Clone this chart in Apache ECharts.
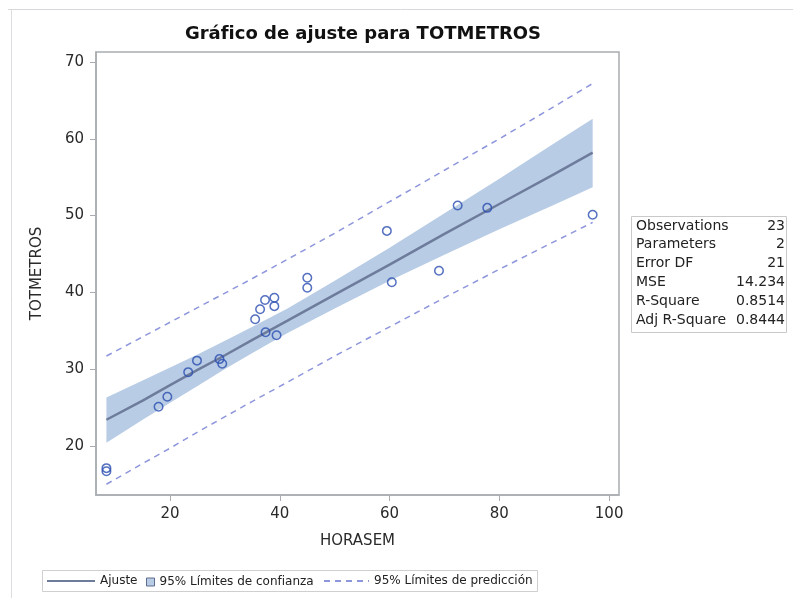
<!DOCTYPE html>
<html lang="es">
<head>
<meta charset="UTF-8">
<title>Gráfico de ajuste para TOTMETROS</title>
<script src="https://cdn.jsdelivr.net/npm/echarts@6/dist/echarts.min.js"></script>
<style>
  html, body { margin: 0; padding: 0; background: #fff; }
  #main { width: 793px; height: 598px; }
</style>
</head>
<body>
<div id="main"></div>
<script>
// observaciones (HORASEM, TOTMETROS)
var horasem = [8.4, 8.4, 17.9, 19.5, 23.3, 24.9, 29.0, 29.5, 35.5, 36.4, 37.3, 37.4,
               39.0, 39.0, 39.4, 45.0, 45.0, 59.5, 60.4, 69.0, 72.4, 77.8, 97.0];
var totmetros = [17.1, 16.7, 25.1, 26.4, 29.6, 31.1, 31.3, 30.7, 36.5, 37.8, 39.0, 34.8,
                 39.3, 38.2, 34.4, 41.9, 40.6, 48.0, 41.3, 42.8, 51.3, 51.0, 50.1];

var gridX   = [8.4, 15, 20, 25, 30, 35, 41.4, 50, 60, 70, 80, 90, 97];
var ajuste  = [23.4, 25.9, 27.9, 29.9, 31.8, 33.8, 36.3, 39.7, 43.6, 47.6, 51.5, 55.4, 58.2];
var clInf   = [20.4, 23.4, 25.6, 27.8, 30.0, 32.1, 34.7, 37.9, 41.5, 44.9, 48.2, 51.4, 53.7];
var clSup   = [26.3, 28.5, 30.2, 31.9, 33.7, 35.5, 37.9, 41.5, 45.8, 50.3, 54.8, 59.4, 62.6];
var plInf   = [15.0, 17.7, 19.7, 21.8, 23.8, 25.8, 28.3, 31.7, 35.5, 39.3, 43.0, 46.6, 49.1];
var plSup   = [31.7, 34.2, 36.1, 38.0, 39.9, 41.8, 44.3, 47.7, 51.8, 55.9, 60.0, 64.2, 67.2];

var xTicks = [20, 40, 60, 80, 100];
var yTicks = [20, 30, 40, 50, 60, 70];

var statNames  = ['Observations', 'Parameters', 'Error DF', 'MSE', 'R-Square', 'Adj R-Square'];
var statValues = ['23', '2', '21', '14.234', '0.8514', '0.8444'];

var FONT = 'DejaVu Sans';
var bandColor = '#B8CCE5';
var fitColor = '#6E7C9C';
var predColor = '#8E96DC';
var markColor = '#2B4DB0';

function pairs(xs, ys) {
  return xs.map(function (x, i) { return [x, ys[i]]; });
}

var puntos = pairs(horasem, totmetros);
var bandData = gridX.map(function (x, i) { return [x, clInf[i], clSup[i]]; });

// banda de confianza: un solo poligono con las coordenadas del eje
function renderBand(params, api) {
  if (params.dataIndex !== 0) return;
  var top = [], bottom = [];
  for (var i = 0; i < bandData.length; i++) {
    top.push(api.coord([bandData[i][0], bandData[i][2]]));
    bottom.unshift(api.coord([bandData[i][0], bandData[i][1]]));
  }
  return {
    type: 'polygon',
    shape: { points: top.concat(bottom) },
    style: { fill: bandColor }
  };
}

// tabla de estadisticos
var statChildren = [{
  type: 'rect',
  shape: { x: 631.5, y: 216.5, width: 155, height: 116 },
  style: { fill: '#fff', stroke: '#c9c9c9', lineWidth: 1 }
}];
statNames.forEach(function (n, i) {
  statChildren.push({
    type: 'text', x: 636, y: 226 + i * 18.8,
    style: { text: n, font: '14px "' + FONT + '"', fill: '#222', verticalAlign: 'middle', align: 'left' }
  });
  statChildren.push({
    type: 'text', x: 785, y: 226 + i * 18.8,
    style: { text: statValues[i], font: '14px "' + FONT + '"', fill: '#222', verticalAlign: 'middle', align: 'right' }
  });
});

var chart = echarts.init(document.getElementById('main'), null, { renderer: 'canvas' });

var legendText = { fontFamily: FONT, fontSize: 12, color: '#222' };

chart.setOption({
  animation: false,
  backgroundColor: '#fff',
  title: {
    text: 'Gráfico de ajuste para TOTMETROS',
    left: 358, top: 20, textAlign: 'center',
    textStyle: { fontFamily: FONT, fontSize: 18, fontWeight: 'bold', color: '#111' }
  },
  grid: {
    left: 96, top: 52, right: 174, bottom: 103,
    show: true, borderColor: '#A9ADB1', borderWidth: 1.5
  },
  xAxis: {
    type: 'value', min: 6.5, max: 101.8,
    name: 'HORASEM', nameLocation: 'middle', nameGap: 39,
    nameTextStyle: { fontFamily: FONT, fontSize: 15, color: '#2a2a2a' },
    axisLine: { show: true, lineStyle: { color: '#A9ADB1', width: 1.5 } },
    axisTick: { show: true, length: 6, lineStyle: { color: '#A9ADB1' }, customValues: xTicks },
    axisLabel: { fontFamily: FONT, fontSize: 15, color: '#2a2a2a', margin: 12, customValues: xTicks },
    splitLine: { show: false }
  },
  yAxis: {
    type: 'value', min: 13.6, max: 71.3,
    name: 'TOTMETROS', nameLocation: 'middle', nameGap: 51, nameRotate: 90,
    nameTextStyle: { fontFamily: FONT, fontSize: 15, color: '#2a2a2a' },
    axisLine: { show: true, lineStyle: { color: '#A9ADB1', width: 1.5 } },
    axisTick: { show: true, length: 6, lineStyle: { color: '#A9ADB1' }, customValues: yTicks },
    axisLabel: { fontFamily: FONT, fontSize: 15, color: '#2a2a2a', margin: 12, customValues: yTicks },
    splitLine: { show: false }
  },
  legend: [
    {
      data: [{ name: 'Ajuste', itemStyle: { opacity: 0 } }],
      left: 46, top: 575, itemWidth: 48, itemHeight: 12, itemGap: 0, padding: 0,
      textStyle: legendText, selectedMode: false
    },
    {
      data: [{ name: '95% Límites de confianza', icon: 'rect',
               itemStyle: { color: bandColor, borderColor: '#5E6C8E', borderWidth: 1 } }],
      left: 146, top: 576, itemWidth: 8, itemHeight: 8, padding: 0,
      textStyle: legendText, selectedMode: false
    },
    {
      data: [{ name: '95% Límites de predicción', itemStyle: { opacity: 0 } }],
      left: 323, top: 575, itemWidth: 45, itemHeight: 12, padding: 0,
      textStyle: legendText, selectedMode: false
    }
  ],
  graphic: [
    { type: 'line', shape: { x1: 8, y1: 9.5, x2: 793, y2: 9.5 }, style: { stroke: '#d6d8dc', lineWidth: 1 }, silent: true },
    { type: 'line', shape: { x1: 11.5, y1: 9, x2: 11.5, y2: 598 }, style: { stroke: '#dcdde0', lineWidth: 1 }, silent: true },
    { type: 'rect', shape: { x: 42.5, y: 570.5, width: 495, height: 21 },
      style: { fill: 'none', stroke: '#cfcfcf', lineWidth: 1 }, silent: true, z: -1 },
    { type: 'group', children: statChildren, silent: true }
  ],
  series: [
    {
      name: '95% Límites de confianza', type: 'custom', data: bandData,
      encode: { x: 0, y: [1, 2] }, renderItem: renderBand,
      itemStyle: { color: bandColor }, silent: true, z: 1
    },
    {
      name: 'Ajuste', type: 'line', data: pairs(gridX, ajuste),
      symbol: 'none', itemStyle: { color: fitColor },
      lineStyle: { color: fitColor, width: 2.5 }, z: 3
    },
    {
      name: '95% Límites de predicción', type: 'line', data: pairs(gridX, plSup),
      symbol: 'none', itemStyle: { color: predColor },
      lineStyle: { color: predColor, width: 1.5, type: [6, 5] }, z: 3
    },
    {
      name: '95% Límites de predicción', type: 'line', data: pairs(gridX, plInf),
      symbol: 'none', itemStyle: { color: predColor },
      lineStyle: { color: predColor, width: 1.5, type: [6, 5] }, z: 3
    },
    {
      name: 'TOTMETROS', type: 'scatter', data: puntos,
      symbol: 'circle', symbolSize: 8.5,
      itemStyle: { color: 'rgba(0,0,0,0)', borderColor: markColor, borderWidth: 1.5 }, z: 5
    }
  ]
});
</script>
</body>
</html>
